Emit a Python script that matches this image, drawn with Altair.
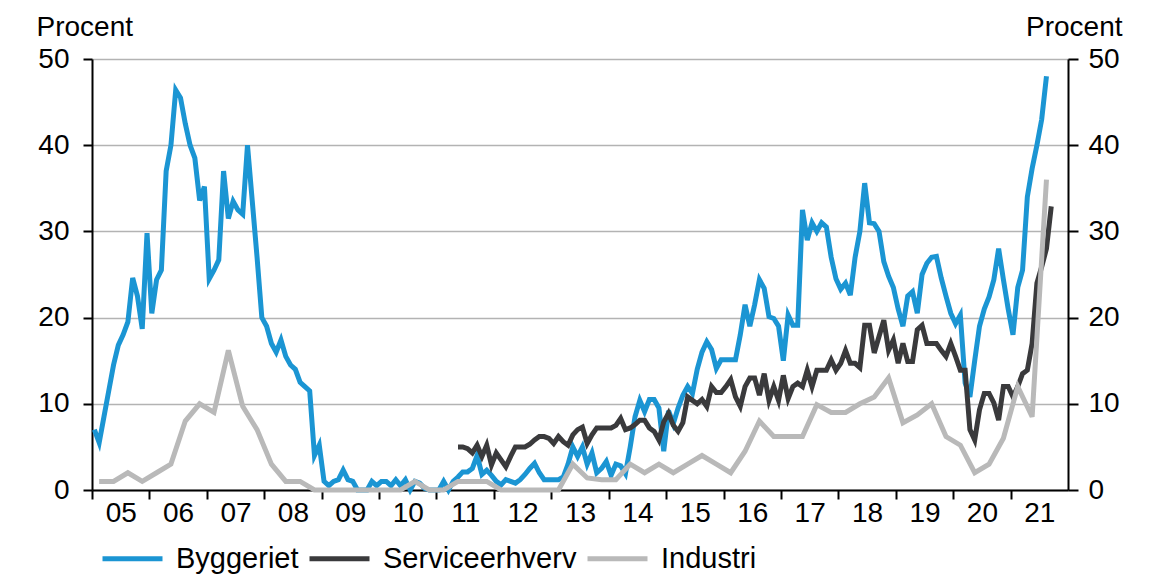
import altair as alt
import pandas as pd

# Byggeriet: monthly, Jan 2005 - Aug 2021
byggeriet = [
    7, 5.5, 8.5, 11.5, 14.5, 16.8, 18, 19.5, 24.6, 22.5, 18.7, 29.8,
    20.5, 24.4, 25.5, 37, 40, 46.4, 45.5, 42.5, 40, 38.5, 33.6, 35.2,
    24.5, 25.5, 26.7, 37, 31.5, 33.5, 32.5, 32, 40, 33.5, 27, 20,
    19, 17, 16, 17.4, 15.5, 14.5, 14, 12.5, 12, 11.5, 4, 5.2,
    1, 0.5, 1, 1.2, 2.3, 1.2, 1, 0, 0, 0, 1, 0.5,
    1, 1, 0.5, 1.2, 0.5, 1.2, 0, 1, 0.8, 0.2, 0, 0,
    0, 1, 0, 1, 1.5, 2.1, 2.1, 2.5, 4, 1.8, 2.3, 1.7,
    1, 0.6, 1.2, 1, 0.8, 1.2, 1.8, 2.5, 3.1, 2, 1.2, 1.2,
    1.2, 1.2, 1.5, 3, 5, 3.9, 5, 3, 4.3, 2, 2.5, 3.3,
    1.7, 3, 2.8, 1.9, 5, 8.5, 10.4, 9.1, 10.5, 10.5, 9.5, 4.5,
    9.2, 7.7, 9.5, 11, 12, 11.2, 14, 16, 17.2, 16.3, 14.1, 15.1,
    15.1, 15.1, 15.1, 18, 21.5, 19, 21.5, 24.4, 23.4, 20.1, 19.9, 19,
    15, 20.3, 19.1, 19.1, 32.5, 29, 31, 30, 31, 30.5, 27, 24.5,
    23.3, 24, 22.6, 27, 30, 35.6, 31, 30.9, 30, 26.5, 24.8, 23.5,
    21, 19, 22.5, 23, 20.5, 25, 26.3, 27, 27.1, 24.6, 22.5, 20.5,
    19.3, 20.3, 12.4, 10.8, 15, 19, 21, 22.4, 24.4, 28, 24.4, 21,
    18, 23.5, 25.5, 34, 37.3, 40, 43, 48,
]

# Serviceerhverv: monthly, May 2011 - Sep 2021
service_start = 76
serviceerhverv = [
    5, 5, 4.8, 4.3, 5.2, 3.9, 5.2, 2.9, 4.3, 3.5, 2.7, 3.9,
    5, 5, 5, 5.3, 5.8, 6.2, 6.2, 6, 5.4, 6.2, 5.6, 5.2,
    6.4, 7, 7.3, 5.4, 6.4, 7.2, 7.2, 7.2, 7.2, 7.5, 8.3, 7,
    7.2, 7.6, 8.1, 8.1, 7.2, 6.8, 5.8, 7.9, 8.9, 7.5, 6.8, 7.8,
    10.8, 10.4, 10, 10.5, 9.7, 12, 11.3, 11.3, 12, 12.8, 10.8, 9.7,
    12, 13, 13, 11, 13.5, 10.4, 12, 10.4, 13.3, 10.6, 12, 12.4,
    12, 13.9, 12, 13.9, 13.9, 13.9, 15.1, 13.9, 14.7, 16.2, 14.7, 14.7,
    14.2, 19.1, 19.1, 15.9, 17.8, 19.7, 16.2, 17.4, 14.7, 17, 14.9, 14.9,
    18.6, 19.1, 17, 17, 17, 16.2, 15.5, 17, 15.5, 13.9, 13.9, 7,
    5.8, 9.3, 11.2, 11.2, 10.1, 8.1, 12, 12, 10.8, 12, 13.5, 13.9,
    17, 24, 25.9, 28, 32.9,
]

# Industri: quarterly, 2005 Q1 - 2021 Q3
industri = [
    1, 1, 2, 1, 2, 3, 8, 10, 9, 16.2, 9.7, 7, 3, 1, 1,
    0, 0, 0, 0, 0, 0, 0, 1, 0, 0, 1, 1, 1, 0, 0, 0, 0, 0,
    3, 1.4, 1.2, 1.2, 3, 2, 3, 2, 3, 4, 3, 2, 4.5, 8, 6.2, 6.2, 6.2,
    9.9, 9, 9, 10, 10.8, 13, 7.8, 8.7, 10, 6.2, 5.2, 2, 3, 6, 12, 8.5, 36,
]

series_names = ["Byggeriet", "Serviceerhverv", "Industri"]
series_colors = ["#1b95d3", "#3a3a3c", "#b9b9b9"]
year_labels = list(range(2005, 2022))

rows = []
for i, v in enumerate(byggeriet):
    rows.append({"t": 2005 + (i + 0.5) / 12, "v": v, "serie": "Byggeriet"})
for j, v in enumerate(serviceerhverv):
    rows.append({"t": 2005 + (service_start + j + 0.5) / 12, "v": v, "serie": "Serviceerhverv"})
for k, v in enumerate(industri):
    rows.append({"t": 2005 + (3 * k + 1.5) / 12, "v": v, "serie": "Industri"})
df = pd.DataFrame(rows)

FONT = "Liberation Sans"
W, H = 976, 431

x_enc = alt.X(
    "t:Q",
    scale=alt.Scale(domain=[2005, 2022], nice=False, zero=False),
    axis=alt.Axis(
        values=year_labels,
        labelExpr="substring(toString(datum.value), 2, 4)",
        labelOffset=W / 17 / 2,
        labelFontSize=28, labelFont=FONT, labelColor="black",
        labelPadding=0, labelOverlap=False, labelFlush=False, labelBound=False,
        tickSize=9, tickWidth=2, tickColor="black",
        domainColor="black", domainWidth=2,
        grid=False, title=None,
    ),
)

y_scale = alt.Scale(domain=[0, 50], nice=False)
y_left = alt.Y(
    "v:Q", scale=y_scale,
    axis=alt.Axis(
        values=[0, 10, 20, 30, 40, 50], orient="left",
        grid=True, gridColor="#b3b3b3", gridWidth=1.5,
        domainColor="black", domainWidth=2,
        tickColor="black", tickWidth=2, tickSize=9,
        labelFontSize=28, labelFont=FONT, labelColor="black", labelPadding=14,
        title="Procent", titleAngle=0, titleX=-56, titleY=-24,
        titleAlign="left", titleBaseline="alphabetic",
        titleFontSize=28, titleFont=FONT, titleFontWeight="normal", titleColor="black",
    ),
)
y_right = alt.Y(
    "v:Q", scale=y_scale,
    axis=alt.Axis(
        values=[0, 10, 20, 30, 40, 50], orient="right",
        grid=False,
        domainColor="black", domainWidth=2,
        tickColor="black", tickWidth=2, tickSize=10,
        labelFontSize=28, labelFont=FONT, labelColor="black", labelPadding=10,
        title="Procent", titleAngle=0, titleX=54, titleY=-24,
        titleAlign="right", titleBaseline="alphabetic",
        titleFontSize=28, titleFont=FONT, titleFontWeight="normal", titleColor="black",
    ),
)

color_enc = alt.Color(
    "serie:N",
    scale=alt.Scale(domain=series_names, range=series_colors),
    legend=alt.Legend(
        orient="none", legendX=8, legendY=467, direction="horizontal",
        title=None, symbolType="stroke", symbolSize=3600, symbolStrokeWidth=5,
        labelFontSize=29, labelFont=FONT, labelColor="black", labelLimit=600,
        labelOffset=11, columnPadding=0, padding=0,
    ),
)

def series_layer(name):
    return alt.Chart(df).transform_filter(alt.datum.serie == name).mark_line(
        strokeWidth=5, strokeJoin="miter", strokeMiterLimit=4
    ).encode(x=x_enc, y=y_left, color=color_enc)

lines = alt.layer(*[series_layer(n) for n in series_names])

right_axis = alt.Chart(df).transform_filter(alt.datum.serie == "Byggeriet").mark_line(
    strokeOpacity=0
).encode(x=x_enc, y=y_right)

chart = alt.layer(lines, right_axis).resolve_scale(y="independent").properties(
    width=W, height=H,
    autosize=alt.AutoSizeParams(type="none"),
    padding={"left": 84, "top": 51, "right": 75, "bottom": 88},
).configure_view(stroke=None).configure(background="white")

chart.save("out.html", embed_options={"renderer": "svg", "actions": False})
